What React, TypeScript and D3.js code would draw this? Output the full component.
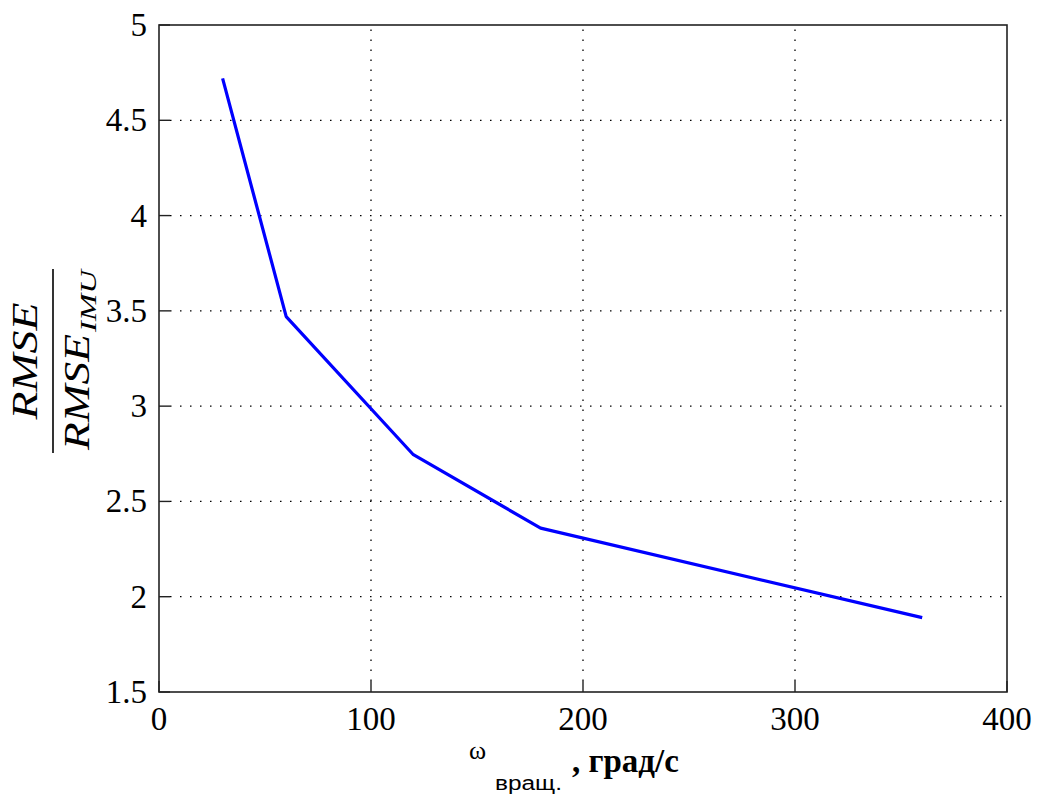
import React from "react";
import * as d3 from "d3";

// Rotation speed, deg/s
const omega: number[] = [30, 60, 120, 180, 360];
// RMSE ratio relative to the IMU-only estimate
const rmseRatio: number[] = [4.72, 3.47, 2.745, 2.36, 1.89];

const xTicks: number[] = [0, 100, 200, 300, 400];
const yTicks: number[] = [1.5, 2, 2.5, 3, 3.5, 4, 4.5, 5];

const W = 1037;
const H = 794;
const margin = { left: 159, right: 30, top: 25, bottom: 102 };
const SERIF = "Liberation Serif";
const SANS = "Liberation Sans";

export default function App() {
  const x = d3.scaleLinear().domain([0, 400]).range([margin.left, W - margin.right]);
  const y = d3.scaleLinear().domain([1.5, 5]).range([H - margin.bottom, margin.top]);
  const pts = omega.map((o, i) => [o, rmseRatio[i]] as [number, number]);
  const line = d3
    .line<[number, number]>()
    .x((d) => x(d[0]))
    .y((d) => y(d[1]));

  const x0 = x(0);
  const x1 = x(400);
  const y0 = y(1.5);
  const y1 = y(5);
  const tickLen = 11;
  const fracCY = 361;
  const fracX = 53;

  const tickStyle = { fontFamily: SERIF, fontSize: 33 };
  const mathStyle = { fontFamily: SERIF, fontStyle: "italic" as const, fontSize: 35 };

  return (
    <svg
      width={W}
      height={H}
      style={{ position: "absolute", left: 0, top: 0, background: "#fff" }}
    >
      {/* dotted grid */}
      <g stroke="#000" strokeWidth={1.3} strokeDasharray="1.5 8.5">
        {xTicks.slice(1, -1).map((t) => (
          <line key={"gx" + t} x1={x(t)} x2={x(t)} y1={y0 - tickLen} y2={y1} />
        ))}
        {yTicks.slice(1, -1).map((t) => (
          <line key={"gy" + t} x1={x0 + tickLen} x2={x1} y1={y(t)} y2={y(t)} />
        ))}
      </g>

      {/* data line */}
      <path d={line(pts) || ""} fill="none" stroke="#0000ff" strokeWidth={3.2} strokeLinejoin="round" />

      {/* axes box and ticks */}
      <rect x={x0} y={y1} width={x1 - x0} height={y0 - y1} fill="none" stroke="#222" strokeWidth={1.6} />
      <g stroke="#222" strokeWidth={1.4}>
        {xTicks.map((t) => (
          <line key={"tx" + t} x1={x(t)} x2={x(t)} y1={y0} y2={y0 - tickLen} />
        ))}
        {yTicks.map((t) => (
          <line key={"ty" + t} x1={x0} x2={x0 + tickLen} y1={y(t)} y2={y(t)} />
        ))}
      </g>

      {/* tick labels */}
      {xTicks.map((t) => (
        <text key={"lx" + t} x={x(t)} y={y0 + 38} textAnchor="middle" fill="#000" style={tickStyle}>
          {t}
        </text>
      ))}
      {yTicks.map((t) => (
        <text key={"ly" + t} x={x0 - 12} y={y(t) + 11} textAnchor="end" fill="#000" style={tickStyle}>
          {t}
        </text>
      ))}

      {/* x axis title */}
      <text x={469} y={759} fill="#000" style={{ fontFamily: SERIF, fontSize: 26 }}>ω</text>
      <text x={495} y={790} fill="#000" style={{ fontFamily: SANS, fontSize: 20 }} textLength={67} lengthAdjust="spacingAndGlyphs">
        вращ.
      </text>
      <text x={572} y={772} fill="#000" style={{ fontFamily: SERIF, fontSize: 33, fontWeight: "bold" }}>
        , град/с
      </text>

      {/* y axis title: RMSE / RMSE_IMU */}
      <g transform={`translate(${fracX},${fracCY}) rotate(-90)`} fill="#000">
        <text x={0} y={-16} style={mathStyle} textAnchor="middle" textLength={117} lengthAdjust="spacingAndGlyphs">
          RMSE
        </text>
        <line x1={-92} x2={92} y1={0} y2={0} stroke="#000" strokeWidth={1.6} />
        <text x={-89} y={36} style={mathStyle} textLength={116} lengthAdjust="spacingAndGlyphs">
          RMSE
        </text>
        <text x={29} y={43} style={{ ...mathStyle, fontSize: 24 }} textLength={62} lengthAdjust="spacingAndGlyphs">
          IMU
        </text>
      </g>
    </svg>
  );
}
